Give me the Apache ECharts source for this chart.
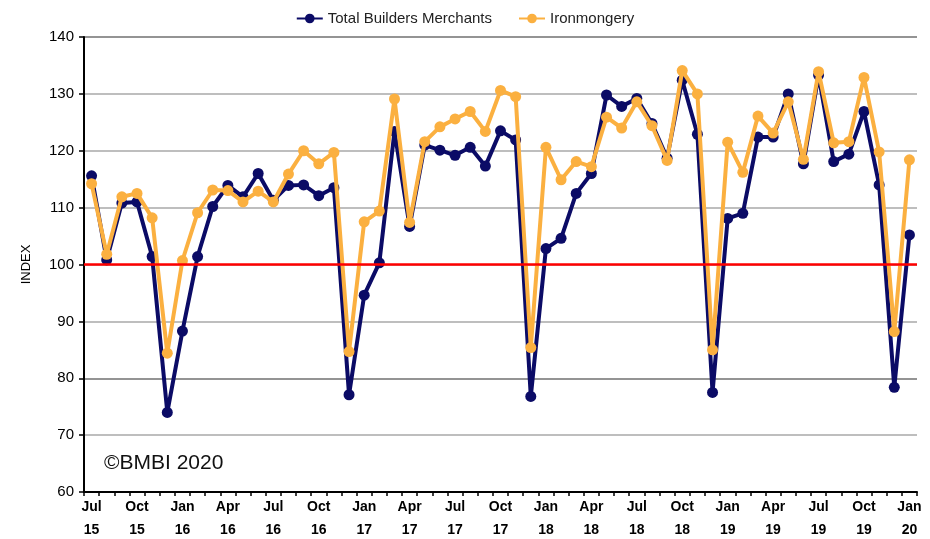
<!DOCTYPE html>
<html>
<head>
<meta charset="utf-8">
<script src="https://cdn.jsdelivr.net/npm/echarts@6/dist/echarts.min.js"></script>
<style>
  html, body { margin: 0; padding: 0; background: #fff; }
  #chart { width: 930px; height: 539px; }
</style>
</head>
<body>
<div id="chart"></div>
<script>
// monthly, Jul 2015 - Jan 2020
const months = [
  'Jul\n15', 'Aug\n15', 'Sep\n15', 'Oct\n15', 'Nov\n15', 'Dec\n15',
  'Jan\n16', 'Feb\n16', 'Mar\n16', 'Apr\n16', 'May\n16', 'Jun\n16',
  'Jul\n16', 'Aug\n16', 'Sep\n16', 'Oct\n16', 'Nov\n16', 'Dec\n16',
  'Jan\n17', 'Feb\n17', 'Mar\n17', 'Apr\n17', 'May\n17', 'Jun\n17',
  'Jul\n17', 'Aug\n17', 'Sep\n17', 'Oct\n17', 'Nov\n17', 'Dec\n17',
  'Jan\n18', 'Feb\n18', 'Mar\n18', 'Apr\n18', 'May\n18', 'Jun\n18',
  'Jul\n18', 'Aug\n18', 'Sep\n18', 'Oct\n18', 'Nov\n18', 'Dec\n18',
  'Jan\n19', 'Feb\n19', 'Mar\n19', 'Apr\n19', 'May\n19', 'Jun\n19',
  'Jul\n19', 'Aug\n19', 'Sep\n19', 'Oct\n19', 'Nov\n19', 'Dec\n19',
  'Jan\n20'
];

const totalBM = [
  115.6, 100.8, 110.8, 111.0, 101.4, 74.0,
  88.3, 101.4, 110.2, 113.9, 111.9, 116.0,
  111.3, 113.9, 114.0, 112.1, 113.5, 77.1,
  94.6, 100.3, 123.4, 106.7, 121.0, 120.1,
  119.2, 120.6, 117.3, 123.5, 121.9, 76.8,
  102.8, 104.6, 112.5, 116.0, 129.8, 127.8,
  129.2, 124.8, 118.7, 132.4, 122.9, 77.5,
  108.1, 109.0, 122.4, 122.4, 130.0, 117.7,
  133.3, 118.1, 119.4, 126.9, 114.0, 78.4,
  105.2
];

const ironmongery = [
  114.2, 101.8, 111.9, 112.5, 108.2, 84.4,
  100.7, 109.1, 113.1, 113.0, 111.0, 112.9,
  111.0, 115.9, 120.0, 117.7, 119.7, 84.7,
  107.5, 109.4, 129.1, 107.4, 121.6, 124.2,
  125.6, 126.9, 123.4, 130.6, 129.5, 85.4,
  120.6, 114.9, 118.1, 117.2, 125.9, 124.0,
  128.6, 124.4, 118.3, 134.1, 130.0, 85.0,
  121.5, 116.2, 126.1, 123.1, 128.6, 118.5,
  133.9, 121.4, 121.6, 132.9, 119.8, 88.2,
  118.4
];

const yTicks = [60, 70, 80, 90, 100, 110, 120, 130, 140];
const baseline = 100;

const font = 'Liberation Sans';
const chart = echarts.init(document.getElementById('chart'), null, { renderer: 'canvas' });

chart.setOption({
  backgroundColor: '#fff',
  animation: false,
  textStyle: { fontFamily: font },
  legend: {
    top: 6,
    left: 'center',
    itemGap: 26,
    itemWidth: 26,
    itemHeight: 12,
    textStyle: { fontSize: 15, color: '#222', fontFamily: font },
    data: ['Total Builders Merchants', 'Ironmongery']
  },
  grid: { left: 84, right: 13, top: 37, bottom: 47, outerBoundsMode: 'none', containLabel: false },
  xAxis: {
    type: 'category',
    data: months,
    boundaryGap: true,
    axisLine: { lineStyle: { color: '#000', width: 2 } },
    axisTick: { show: true, interval: 0, length: 4, lineStyle: { color: '#000', width: 1.5 } },
    axisLabel: {
      interval: 2,
      color: '#000',
      fontWeight: 'bold',
      fontSize: 14,
      lineHeight: 23,
      margin: 4
    },
    splitLine: { show: false }
  },
  yAxis: {
    type: 'value',
    min: yTicks[0],
    max: yTicks[yTicks.length - 1],
    interval: 10,
    name: 'INDEX',
    nameLocation: 'middle',
    nameGap: 51,
    nameRotate: 90,
    nameTextStyle: { fontSize: 13, color: '#000' },
    axisLine: { show: true, lineStyle: { color: '#000', width: 2 } },
    axisTick: { show: true, length: 5, lineStyle: { color: '#000', width: 1.5 } },
    axisLabel: { fontSize: 15, color: '#000', margin: 10 },
    splitLine: {
      lineStyle: {
        color: ['#a8a8a8', '#a8a8a8', '#707070', '#a8a8a8', '#a8a8a8', '#a8a8a8', '#a8a8a8', '#a8a8a8', '#707070'],
        width: 1.5
      }
    }
  },
  graphic: [{
    type: 'text',
    left: 104,
    top: 453,
    style: { text: '©BMBI 2020', fontSize: 21, fill: '#111', fontFamily: font }
  }],
  series: [
    {
      name: 'Total Builders Merchants',
      type: 'line',
      data: totalBM,
      symbol: 'circle',
      symbolSize: 11,
      showAllSymbol: true,
      lineStyle: { color: '#0b0b66', width: 4 },
      itemStyle: { color: '#0b0b66' },
      z: 3,
      markLine: {
        silent: true,
        symbol: 'none',
        label: { show: false },
        lineStyle: { color: '#ff0000', width: 2.5, type: 'solid' },
        data: [{ yAxis: baseline }]
      }
    },
    {
      name: 'Ironmongery',
      type: 'line',
      data: ironmongery,
      symbol: 'circle',
      symbolSize: 11,
      showAllSymbol: true,
      lineStyle: { color: '#fbb040', width: 4 },
      itemStyle: { color: '#fbb040' },
      z: 4
    }
  ]
});
</script>
</body>
</html>
